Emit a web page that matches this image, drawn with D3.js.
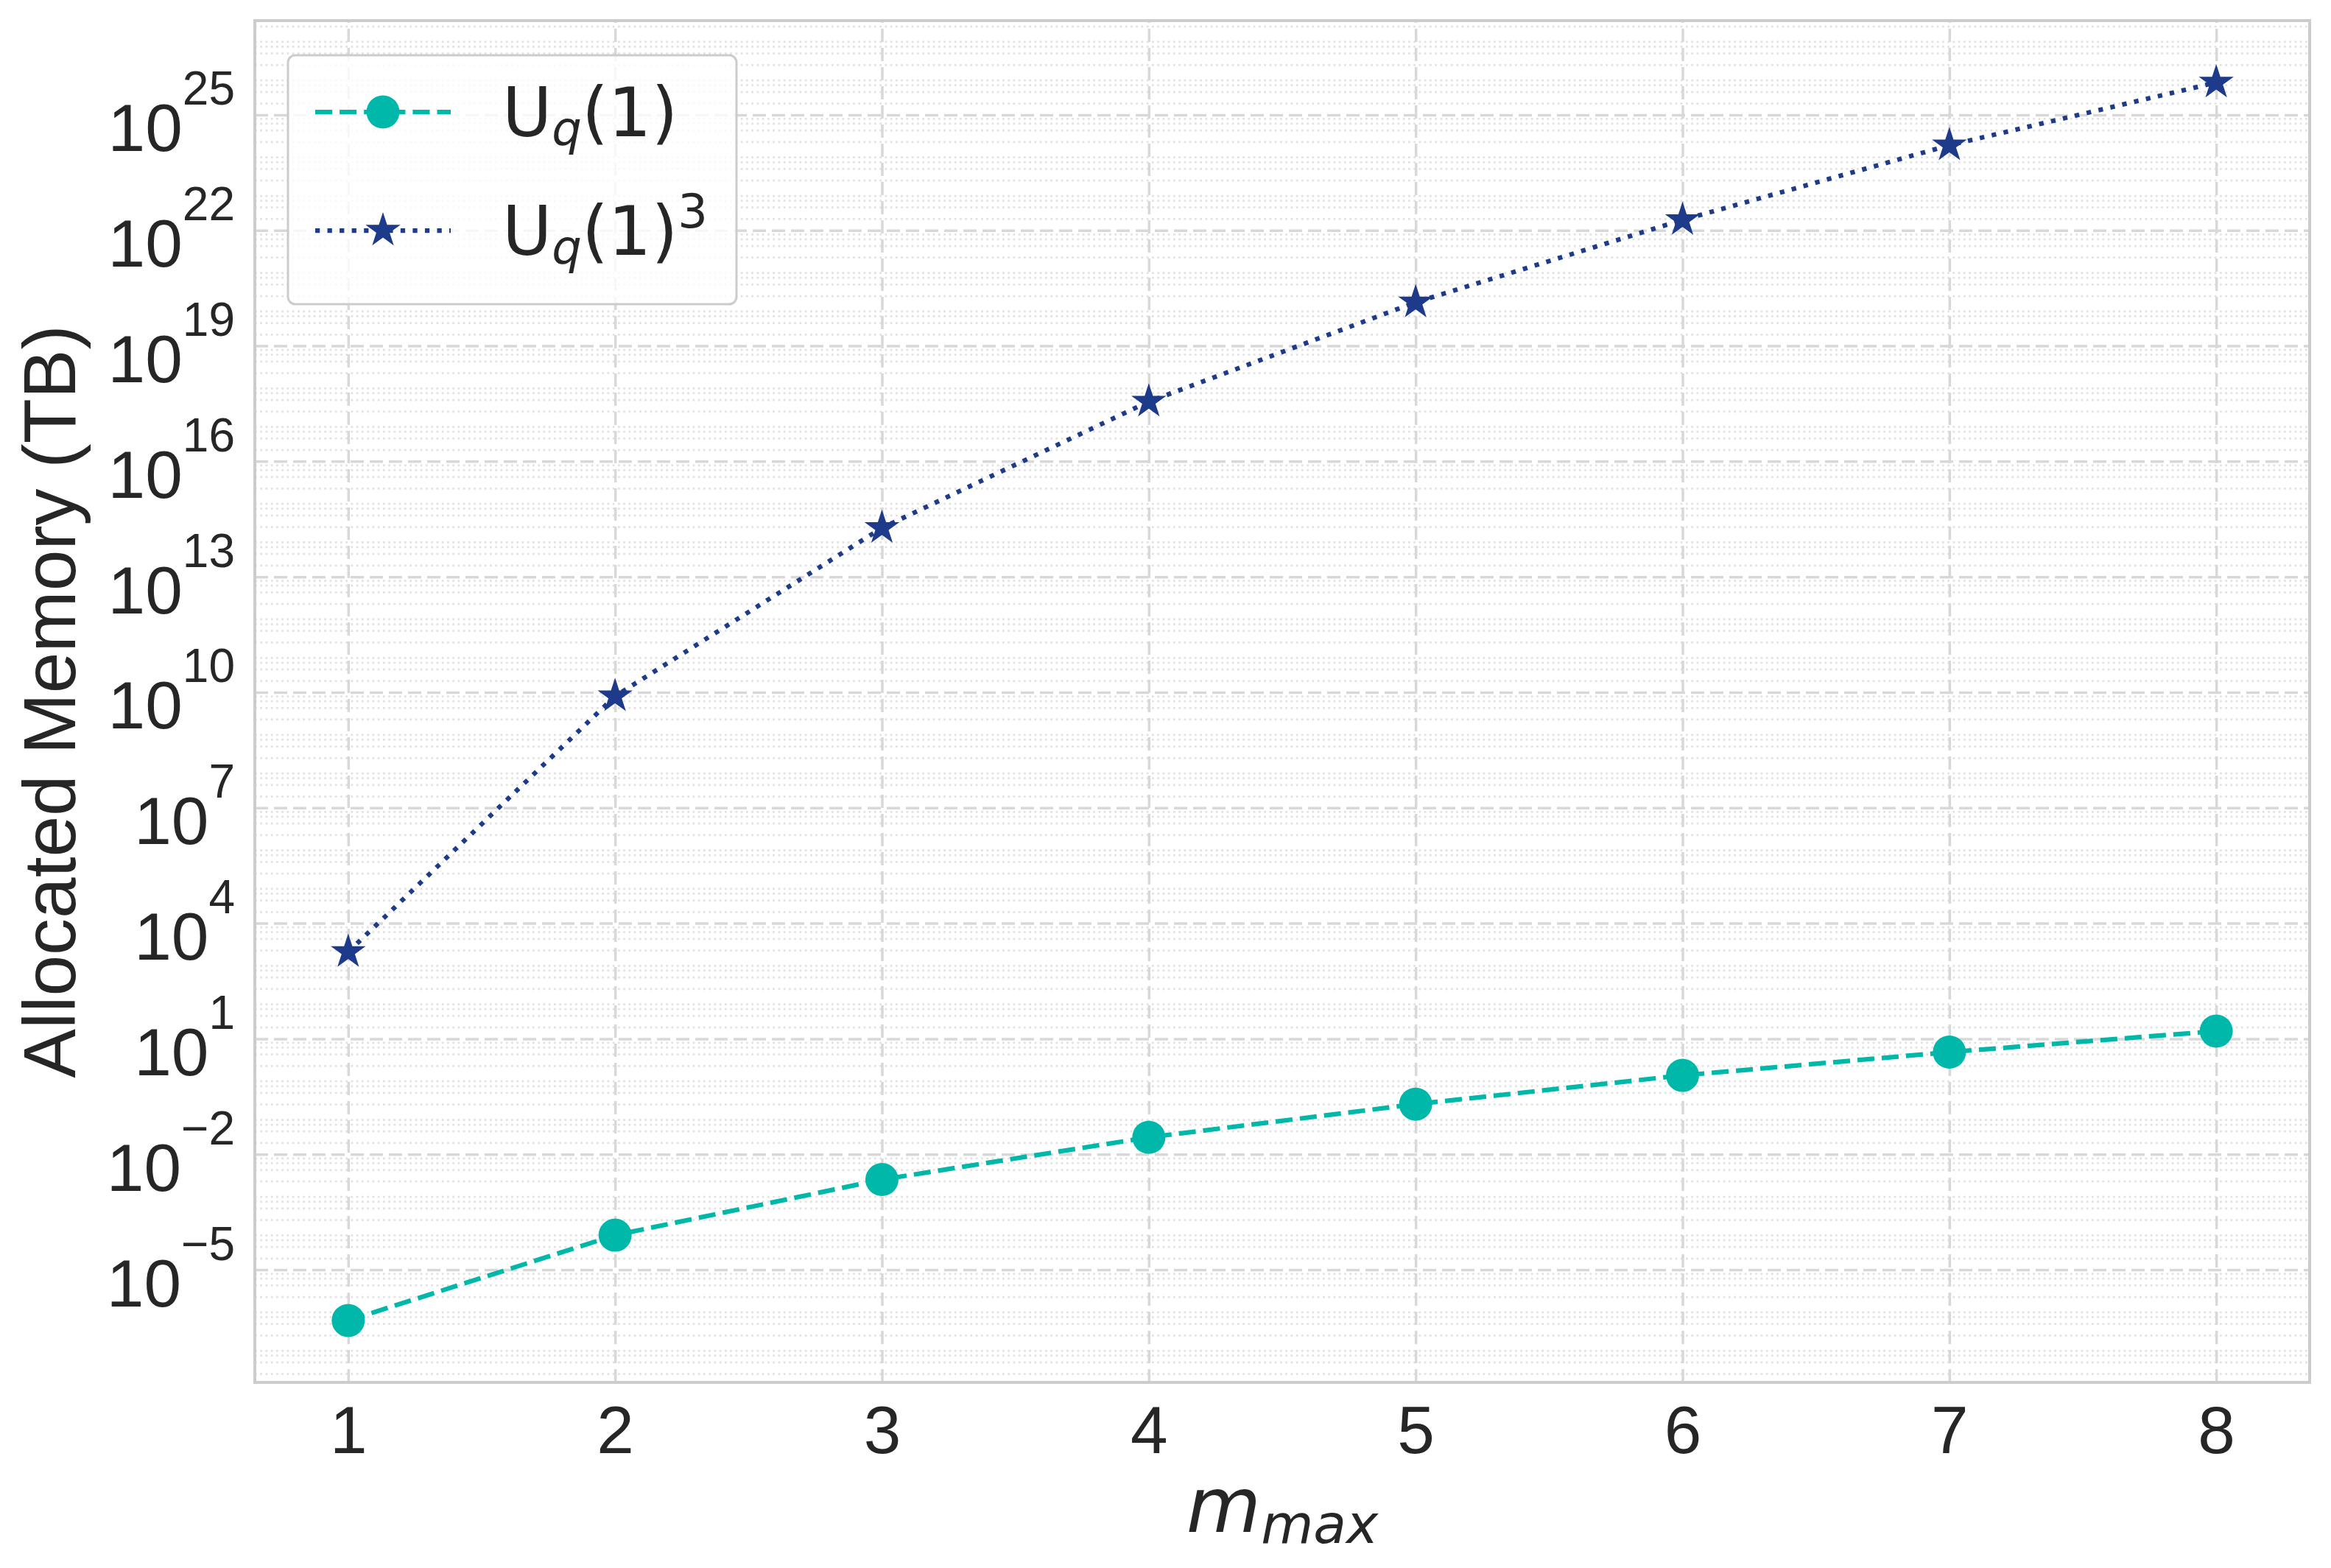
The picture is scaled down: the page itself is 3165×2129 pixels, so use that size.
<!DOCTYPE html>
<html>
<head>
<meta charset="utf-8">
<script src="https://cdn.jsdelivr.net/npm/d3@7"></script>
<style>
  body { margin: 0; background: #fff; }
</style>
</head>
<body>
<div id="chart"></div>
<script>
// data
var mMax = [1, 2, 3, 4, 5, 6, 7, 8];
var uq1 = [4.8e-7, 7.9e-5, 2.2e-3, 2.75e-2, 2.0e-1, 1.12, 4.5, 15.8];
var uq1Cubed = [1.8e3, 7.9e9, 1.86e14, 3.55e17, 1.35e20, 1.86e22, 1.62e24, 6.9e25];
var yTickExps = [-5, -2, 1, 4, 7, 10, 13, 16, 19, 22, 25];
var minorSubs = [2, 4, 6, 8];

var W = 3165, H = 2129;
var plotLeft = 346, plotRight = 3136, plotTop = 28, plotBottom = 1877;
var textColor = "#262626";
var teal = "#00b8a9", navy = "#1e3a8a";

var svg = d3.select("#chart").append("svg")
    .attr("width", W)
    .attr("height", H)
    .style("font-family", "'Liberation Sans', Arial, sans-serif");

// scales with matplotlib style 5% margins
var xPad = (d3.max(mMax) - d3.min(mMax)) * 0.05;
var xScale = d3.scaleLinear()
    .domain([d3.min(mMax) - xPad, d3.max(mMax) + xPad])
    .range([plotLeft, plotRight]);

var allVals = uq1.concat(uq1Cubed);
var lmin = Math.log10(d3.min(allVals)), lmax = Math.log10(d3.max(allVals));
var lPad = (lmax - lmin) * 0.05;
var yScale = d3.scaleLog()
    .domain([Math.pow(10, lmin - lPad), Math.pow(10, lmax + lPad)])
    .range([plotBottom, plotTop]);

// minor grid values 2,4,6,8 x 10^k
var minorVals = [];
for (var k = Math.floor(lmin - lPad); k <= Math.ceil(lmax + lPad); k++) {
    minorSubs.forEach(function (s) {
        var v = s * Math.pow(10, k);
        if (v >= yScale.domain()[0] && v <= yScale.domain()[1]) minorVals.push(v);
    });
}
var majorVals = yTickExps.map(function (e) { return Math.pow(10, e); });

// minor grid (dotted)
svg.append("g")
    .attr("transform", "translate(" + plotLeft + ",0)")
    .call(d3.axisLeft(yScale).tickValues(minorVals).tickSize(-(plotRight - plotLeft)).tickFormat(""))
    .call(function (g) { g.select(".domain").remove(); })
    .selectAll("line")
    .attr("stroke", "#e2e2e2")
    .attr("stroke-width", 2.75)
    .attr("stroke-dasharray", "2.75,4.5");

// major grid (dashed)
svg.append("g")
    .attr("transform", "translate(" + plotLeft + ",0)")
    .call(d3.axisLeft(yScale).tickValues(majorVals).tickSize(-(plotRight - plotLeft)).tickFormat(""))
    .call(function (g) { g.select(".domain").remove(); })
    .selectAll("line")
    .attr("stroke", "#d8d8d8")
    .attr("stroke-width", 3.5)
    .attr("stroke-dasharray", "18,8");

svg.append("g")
    .attr("transform", "translate(0," + plotBottom + ")")
    .call(d3.axisBottom(xScale).tickValues(mMax).tickSize(-(plotBottom - plotTop)).tickFormat(""))
    .call(function (g) { g.select(".domain").remove(); })
    .selectAll("line")
    .attr("stroke", "#d8d8d8")
    .attr("stroke-width", 3.5)
    .attr("stroke-dasharray", "18,8");

// x axis labels
var xAxis = svg.append("g")
    .attr("transform", "translate(0," + plotBottom + ")")
    .call(d3.axisBottom(xScale).tickValues(mMax).tickSize(0).tickPadding(31).tickFormat(d3.format("d")));
xAxis.select(".domain").remove();
xAxis.selectAll("text")
    .attr("fill", textColor)
    .style("font-size", "91px")
    .style("font-family", "'Liberation Sans', Arial, sans-serif");

// y axis labels: 10^e
var yAxis = svg.append("g")
    .attr("transform", "translate(" + plotLeft + ",0)")
    .call(d3.axisLeft(yScale).tickValues(majorVals).tickSize(0).tickPadding(27).tickFormat(""));
yAxis.select(".domain").remove();
yAxis.selectAll(".tick text")
    .attr("fill", textColor)
    .attr("dy", "49px")
    .style("font-size", "91px")
    .style("font-family", "'Liberation Sans', Arial, sans-serif")
    .each(function (d) {
        var e = Math.round(Math.log10(d));
        var t = d3.select(this);
        t.append("tspan").text("10");
        t.append("tspan")
            .attr("dy", -63)
            .style("font-size", "64px")
            .text(String(e).replace("-", "\u2212"));
    });

// axis titles
svg.append("text")
    .attr("transform", "translate(102," + ((plotTop + plotBottom) / 2) + ") rotate(-90)")
    .attr("text-anchor", "middle")
    .attr("fill", textColor)
    .style("font-size", "100px")
    .text("Allocated Memory (TB)");

var xTitle = svg.append("text")
    .attr("x", (plotLeft + plotRight) / 2)
    .attr("y", 2080)
    .attr("text-anchor", "middle")
    .attr("fill", textColor)
    .style("font-family", "'DejaVu Sans', sans-serif")
    .style("font-style", "italic");
xTitle.append("tspan").style("font-size", "104px").text("m");
xTitle.append("tspan").attr("dy", 15).style("font-size", "73px").text("max");

// lines
var lineGen = d3.line()
    .x(function (d) { return xScale(d.m); })
    .y(function (d) { return yScale(d.v); });

var uqData = mMax.map(function (m, i) { return { m: m, v: uq1[i] }; });
var cubedData = mMax.map(function (m, i) { return { m: m, v: uq1Cubed[i] }; });

svg.append("path")
    .datum(uqData)
    .attr("d", lineGen)
    .attr("fill", "none")
    .attr("stroke", teal)
    .attr("stroke-width", 6.25)
    .attr("stroke-dasharray", "23.1,10");

svg.append("path")
    .datum(cubedData)
    .attr("d", lineGen)
    .attr("fill", "none")
    .attr("stroke", navy)
    .attr("stroke-width", 6.25)
    .attr("stroke-dasharray", "6.25,10.3");

svg.append("g").selectAll("circle")
    .data(uqData)
    .enter()
    .append("circle")
    .attr("cx", function (d) { return xScale(d.m); })
    .attr("cy", function (d) { return yScale(d.v); })
    .attr("r", 22.5)
    .attr("fill", teal);

var star = d3.symbol().type(d3.symbolStar).size(570);
svg.append("g").selectAll("path")
    .data(cubedData)
    .enter()
    .append("path")
    .attr("d", star)
    .attr("transform", function (d) { return "translate(" + xScale(d.m) + "," + yScale(d.v) + ")"; })
    .attr("fill", navy)
    .attr("stroke", navy)
    .attr("stroke-width", 1.5);

// frame
svg.append("rect")
    .attr("x", plotLeft)
    .attr("y", plotTop)
    .attr("width", plotRight - plotLeft)
    .attr("height", plotBottom - plotTop)
    .attr("fill", "none")
    .attr("stroke", "#cccccc")
    .attr("stroke-width", 4);

// legend
var legend = svg.append("g");
legend.append("rect")
    .attr("x", 391).attr("y", 75)
    .attr("width", 609).attr("height", 338)
    .attr("rx", 10)
    .attr("fill", "white")
    .attr("fill-opacity", 0.8)
    .attr("stroke", "#cccccc")
    .attr("stroke-width", 3);

var rows = [
    { y: 152, color: teal, dash: "23.1,10", marker: "circle", sup: null },
    { y: 313, color: navy, dash: "6.25,10.3", marker: "star", sup: "3" }
];
rows.forEach(function (r) {
    legend.append("line")
        .attr("x1", 428).attr("x2", 612)
        .attr("y1", r.y).attr("y2", r.y)
        .attr("stroke", r.color)
        .attr("stroke-width", 6.25)
        .attr("stroke-dasharray", r.dash);
    if (r.marker === "circle") {
        legend.append("circle").attr("cx", 520).attr("cy", r.y).attr("r", 22.5).attr("fill", r.color);
    } else {
        legend.append("path").attr("d", star)
            .attr("transform", "translate(520," + r.y + ")")
            .attr("fill", r.color).attr("stroke", r.color).attr("stroke-width", 1.5);
    }
    var t = legend.append("text")
        .attr("x", 682)
        .attr("y", r.y + 33)
        .attr("fill", textColor)
        .style("font-family", "'DejaVu Sans', sans-serif")
        .style("font-size", "92px");
    t.append("tspan").text("U");
    t.append("tspan").attr("dy", 12).style("font-size", "64px").style("font-style", "italic").text("q");
    t.append("tspan").attr("dy", -12).text("(1)");
    if (r.sup) {
        t.append("tspan").attr("dy", -37).style("font-size", "64px").text(r.sup);
    }
});
</script>
</body>
</html>
